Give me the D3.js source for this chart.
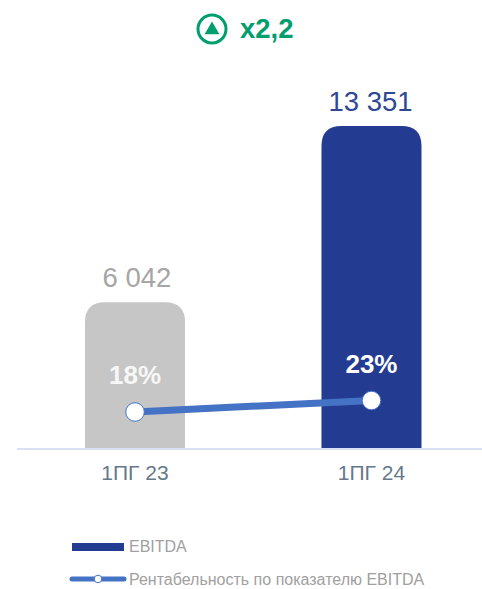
<!DOCTYPE html>
<html>
<head>
<meta charset="utf-8">
<script src="https://cdn.jsdelivr.net/npm/d3@7"></script>
<style>
html, body { margin: 0; padding: 0; background: #fff; }
svg { display: block; font-family: "Liberation Sans", Arial, sans-serif; }
</style>
</head>
<body>
<svg></svg>
<script>
// chart values
const categories = ['1ПГ 23', '1ПГ 24']
const ebitda = [6042, 13351]
const ebitdaLabels = ['6 042', '13 351']
const margin = [18, 23]
const marginLabels = ['18%', '23%']
const growthLabel = 'x2,2'
const legendLabels = ['EBITDA', 'Рентабельность по показателю EBITDA']
const barColors = ['#c6c6c6', '#233c91']
const valueColors = ['#a6a6a6', '#2f4797']
const lineColor = '#4472c4'
const green = '#009e6e'

let width = 482
let height = 589
let baseline = 448

let svg = d3.select('svg').attr('width', width).attr('height', height)

// scales
let xScale = d3.scaleBand()
    .domain(categories)
    .range([85, 421.5])
    .paddingInner(0.577)

let yScale = d3.scaleLinear()
    .domain([0, 13351])
    .range([baseline, 126])

let marginScale = d3.scaleLinear()
    .domain([0, 100])
    .range([453.4, 223.4])

// bar with rounded top corners only
let barPath = (x, y, w, h, r) =>
    'M' + x + ',' + (y + h) +
    'V' + (y + r) +
    'Q' + x + ',' + y + ' ' + (x + r) + ',' + y +
    'H' + (x + w - r) +
    'Q' + (x + w) + ',' + y + ' ' + (x + w) + ',' + (y + r) +
    'V' + (y + h) + 'Z'

svg.selectAll('path.bar')
    .data(ebitda)
    .enter()
    .append('path')
    .attr('class', 'bar')
    .attr('fill', (d, i) => barColors[i])
    .attr('d', (d, i) => barPath(xScale(categories[i]), yScale(d), xScale.bandwidth(), baseline - yScale(d), 20))

// value labels above bars
svg.selectAll('text.value')
    .data(ebitda)
    .enter()
    .append('text')
    .attr('class', 'value')
    .attr('x', (d, i) => xScale(categories[i]) + xScale.bandwidth() / 2 + (i == 0 ? 2 : -1))
    .attr('y', d => yScale(d) - 15)
    .attr('text-anchor', 'middle')
    .attr('font-size', 27.5)
    .attr('fill', (d, i) => valueColors[i])
    .text((d, i) => ebitdaLabels[i])

// x axis
let xAxis = d3.axisBottom(xScale).tickSize(0).tickPadding(16)
let axisG = svg.append('g')
    .attr('transform', 'translate(0,' + (baseline + 1) + ')')
    .call(xAxis)
axisG.select('.domain').remove()
axisG.append('line')
    .attr('x1', 17).attr('x2', width).attr('y1', 0).attr('y2', 0)
    .attr('stroke', '#d9e1f4').attr('stroke-width', 2)
axisG.selectAll('.tick text')
    .attr('font-size', 21)
    .attr('font-family', '"Liberation Sans", Arial, sans-serif')
    .attr('fill', '#66788a')

// margin line
let cx = i => xScale(categories[i]) + xScale.bandwidth() / 2
let line = d3.line().x((d, i) => cx(i)).y(d => marginScale(d))

svg.append('path')
    .attr('d', line(margin))
    .attr('fill', 'none')
    .attr('stroke', lineColor)
    .attr('stroke-width', 7)

svg.selectAll('circle.pt')
    .data(margin)
    .enter()
    .append('circle')
    .attr('class', 'pt')
    .attr('cx', (d, i) => cx(i))
    .attr('cy', d => marginScale(d))
    .attr('r', 9.3)
    .attr('fill', '#fff')
    .attr('stroke', lineColor)
    .attr('stroke-width', 1)

svg.selectAll('text.pct')
    .data(margin)
    .enter()
    .append('text')
    .attr('class', 'pct')
    .attr('x', (d, i) => cx(i))
    .attr('y', d => marginScale(d) - 28)
    .attr('text-anchor', 'middle')
    .attr('font-size', 26)
    .attr('font-weight', 'bold')
    .attr('fill', (d, i) => i == 0 ? '#f7f7f7' : '#fff')
    .text((d, i) => marginLabels[i])

// growth badge on top
svg.append('circle')
    .attr('cx', 212).attr('cy', 29).attr('r', 14)
    .attr('fill', 'none').attr('stroke', green).attr('stroke-width', 3)
svg.append('path')
    .attr('d', d3.symbol(d3.symbolTriangle, 95)())
    .attr('transform', 'translate(212,30)')
    .attr('fill', green)
svg.append('text')
    .attr('x', 240).attr('y', 38)
    .attr('font-size', 27.5).attr('font-weight', 'bold')
    .attr('fill', green)
    .text(growthLabel)

// legend
svg.append('rect')
    .attr('x', 72).attr('y', 543).attr('width', 52).attr('height', 8)
    .attr('fill', barColors[1])
svg.append('text')
    .attr('x', 129).attr('y', 552)
    .attr('font-size', 16).attr('fill', '#a0a0a0')
    .text(legendLabels[0])

svg.append('line')
    .attr('x1', 72).attr('x2', 124).attr('y1', 579).attr('y2', 579)
    .attr('stroke', lineColor).attr('stroke-width', 5)
    .attr('stroke-linecap', 'round')
svg.append('circle')
    .attr('cx', 98).attr('cy', 579).attr('r', 3.8)
    .attr('fill', '#fff').attr('stroke', lineColor).attr('stroke-width', 1)
svg.append('text')
    .attr('x', 129).attr('y', 585)
    .attr('font-size', 16).attr('fill', '#a0a0a0')
    .text(legendLabels[1])
</script>
</body>
</html>
